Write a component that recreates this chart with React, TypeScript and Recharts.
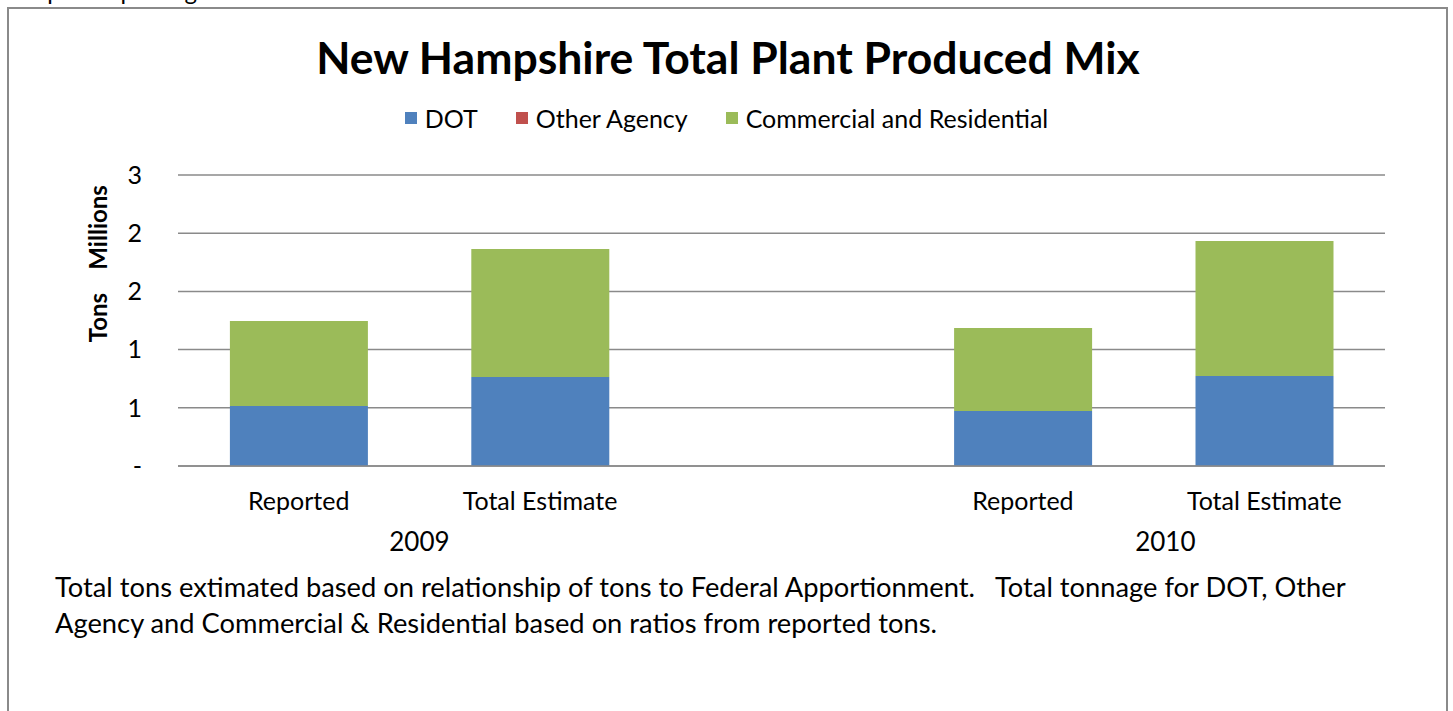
import { BarChart, Bar, XAxis, YAxis, CartesianGrid } from "recharts";

const categories = ["Reported", "Total Estimate", "", "Reported", "Total Estimate"];
const years = ["2009", "2009", "", "2010", "2010"];
const dotTons = [0.515, 0.765, 0, 0.473, 0.773];
const otherAgencyTons = [0, 0, 0, 0, 0];
const commercialTons = [0.731, 1.1, 0, 0.713, 1.16];
const yTicks = [0, 0.5, 1, 1.5, 2, 2.5];

const seriesList = [
  { key: "dot", name: "DOT", color: "#4F81BD" },
  { key: "other", name: "Other Agency", color: "#C0504D" },
  { key: "comm", name: "Commercial and Residential", color: "#9BBB59" },
];

const chartData = categories.map((cat, i) => ({
  cat: cat || `gap${i}`,
  label: cat,
  year: years[i],
  dot: dotTons[i],
  other: otherAgencyTons[i],
  comm: commercialTons[i],
}));

const FONT = "Lato, 'Open Sans', sans-serif";

// year label sits under the first bar of its group
const yearStart: Record<number, { year: string; dx: number }> = {
  0: { year: "2009", dx: 0.5 },
  3: { year: "2010", dx: 0.59 },
};

const CatTick = (props: any) => {
  const { x, y, payload, index, width } = props;
  const row = chartData[index];
  const band = (width || 1207) / chartData.length;
  const yr = yearStart[index];
  return (
    <g>
      <text x={x} y={y + 36} textAnchor="middle" fontSize={25} fill="#000" fontFamily={FONT}>
        {row ? row.label : payload.value}
      </text>
      {yr && (
        <text x={x + band * yr.dx} y={y + 77} textAnchor="middle" fontSize={26} fill="#000" fontFamily={FONT}>
          {yr.year}
        </text>
      )}
    </g>
  );
};

const LegendRow = () => (
  <div style={{ display: "flex", justifyContent: "center", gap: 38, fontFamily: FONT, fontSize: 25, color: "#000" }}>
    {seriesList.map((s) => (
      <div key={s.key} style={{ display: "flex", alignItems: "center" }}>
        <span style={{ width: 12, height: 12, background: s.color, display: "inline-block", marginRight: 8 }} />
        <span>{s.name}</span>
      </div>
    ))}
  </div>
);

const AxisTitle = (props: any) => {
  const vb = props.viewBox || {};
  const cx = 98;
  const cy = vb.y + vb.height * 0.305;
  return (
    <text
      x={cx}
      y={cy}
      transform={`rotate(-90 ${cx} ${cy})`}
      textAnchor="middle"
      dominantBaseline="central"
      fontSize={24}
      fontWeight={700}
      fontFamily={FONT}
      fill="#000"
      style={{ whiteSpace: "pre" }}
    >
      {"Tons    Millions"}
    </text>
  );
};

const App = () => {
  return (
    <div
      style={{
        position: "fixed",
        left: 0,
        top: 0,
        width: 1453,
        height: 711,
        overflow: "hidden",
        background: "#fff",
        fontFamily: FONT,
      }}
    >
      <div style={{ position: "absolute", left: -2, top: -24, fontSize: 24, whiteSpace: "nowrap" }}>
        Compare reporting
      </div>
      <div
        style={{
          position: "absolute",
          left: 7,
          top: 7,
          width: 1437,
          height: 740,
          border: "2px solid #8a8a8a",
        }}
      />
      <div
        style={{
          position: "absolute",
          left: 0,
          top: 30,
          width: 1456,
          textAlign: "center",
          fontSize: 44.5,
          fontWeight: 700,
          color: "#000",
        }}
      >
        New Hampshire Total Plant Produced Mix
      </div>
      <div style={{ position: "absolute", left: 0, top: 103, width: 1453 }}>
        <LegendRow />
      </div>
      <div style={{ position: "absolute", left: 0, top: 0 }}>
        <BarChart
          width={1453}
          height={600}
          data={chartData}
          margin={{ top: 175, right: 68, bottom: 34, left: 98 }}
          barCategoryGap="21.5%"
        >
          <CartesianGrid vertical={false} stroke="#8a8a8a" strokeWidth={1.5} />
          <XAxis
            dataKey="cat"
            height={100}
            axisLine={{ stroke: "#8a8a8a", strokeWidth: 1.5 }}
            tickLine={false}
            interval={0}
            tick={<CatTick />}
          />
          <YAxis
            width={80}
            domain={[0, 2.5]}
            ticks={yTicks}
            axisLine={false}
            tickLine={false}
            tickMargin={30}
            tickFormatter={(v: number) => (v === 0 ? "-" : String(Math.round(v)))}
            tick={{ fontSize: 25, fill: "#000", fontFamily: FONT }}
            label={<AxisTitle />}
          />
          {seriesList.map((s) => (
            <Bar key={s.key} dataKey={s.key} name={s.name} stackId="a" fill={s.color} isAnimationActive={false} />
          ))}
        </BarChart>
      </div>
      <div
        style={{
          position: "absolute",
          left: 55,
          top: 569,
          fontSize: 27.3,
          lineHeight: "36px",
          color: "#000",
          whiteSpace: "pre",
        }}
      >
        {"Total tons extimated based on relationship of tons to Federal Apportionment.   Total tonnage for DOT, Other\nAgency and Commercial & Residential based on ratios from reported tons."}
      </div>
    </div>
  );
};

export default App;
